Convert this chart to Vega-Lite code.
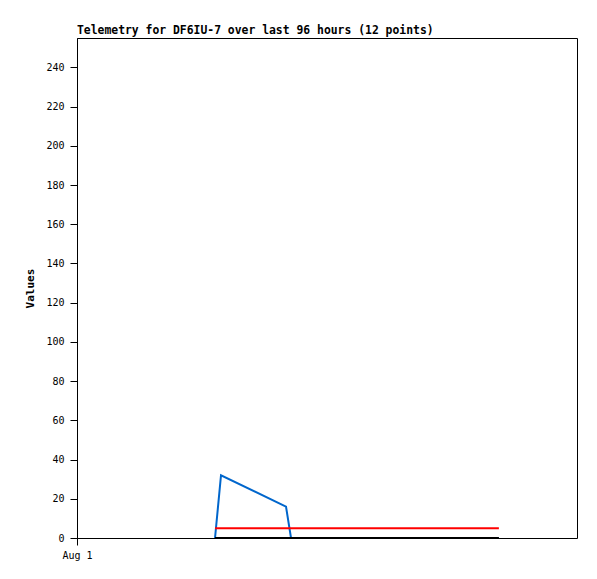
{
  "$schema": "https://vega.github.io/schema/vega-lite/v6.json",
  "width": 500,
  "height": 500,
  "autosize": "none",
  "padding": {"left": 77, "top": 38, "right": 20, "bottom": 41},
  "background": "white",
  "config": {
    "view": {"stroke": "black", "strokeWidth": 1},
    "font": "DejaVu Sans Mono"
  },
  "title": {
    "text": "Telemetry for DF6IU-7 over last 96 hours (12 points)",
    "anchor": "start",
    "frame": "group",
    "font": "DejaVu Sans Mono",
    "fontSize": 11.4,
    "fontWeight": "bold",
    "color": "black",
    "offset": 2
  },
  "data": {
    "values": [
      {"h": 26.5, "v": 0, "s": "a"},
      {"h": 27.65, "v": 32, "s": "a"},
      {"h": 40.13, "v": 16, "s": "a"},
      {"h": 41.09, "v": 0, "s": "a"},
      {"h": 81.0, "v": 0, "s": "a"},
      {"h": 26.5, "v": 5, "s": "b"},
      {"h": 81.0, "v": 5, "s": "b"},
      {"h": 26.5, "v": 0, "s": "c"},
      {"h": 81.0, "v": 0, "s": "c"}
    ]
  },
  "mark": {"type": "line", "strokeWidth": 2, "clip": true},
  "encoding": {
    "x": {
      "field": "h",
      "type": "quantitative",
      "scale": {"domain": [0, 96], "nice": false, "zero": false},
      "axis": {
        "values": [0],
        "labelExpr": "'Aug 1'",
        "labelAlign": "center",
        "labelFlush": false,
        "title": null,
        "grid": false,
        "domain": false,
        "tickColor": "black",
        "tickSize": 7,
        "labelFont": "DejaVu Sans Mono",
        "labelFontSize": 10,
        "labelColor": "black",
        "labelPadding": 5
      }
    },
    "y": {
      "field": "v",
      "type": "quantitative",
      "scale": {"domain": [0, 255], "nice": false},
      "axis": {
        "values": [0, 20, 40, 60, 80, 100, 120, 140, 160, 180, 200, 220, 240],
        "title": "Values",
        "titleFont": "DejaVu Sans Mono",
        "titleFontSize": 11,
        "titleFontWeight": "bold",
        "titleColor": "black",
        "titlePadding": 10,
        "grid": false,
        "domainColor": "black",
        "tickColor": "black",
        "tickSize": 7,
        "labelFont": "DejaVu Sans Mono",
        "labelFontSize": 10,
        "labelColor": "black",
        "labelPadding": 6
      }
    },
    "color": {
      "field": "s",
      "type": "nominal",
      "scale": {"domain": ["a", "b", "c"], "range": ["#0066cc", "#ff0000", "#000000"]},
      "legend": null
    },
    "order": {"field": "h"}
  }
}
